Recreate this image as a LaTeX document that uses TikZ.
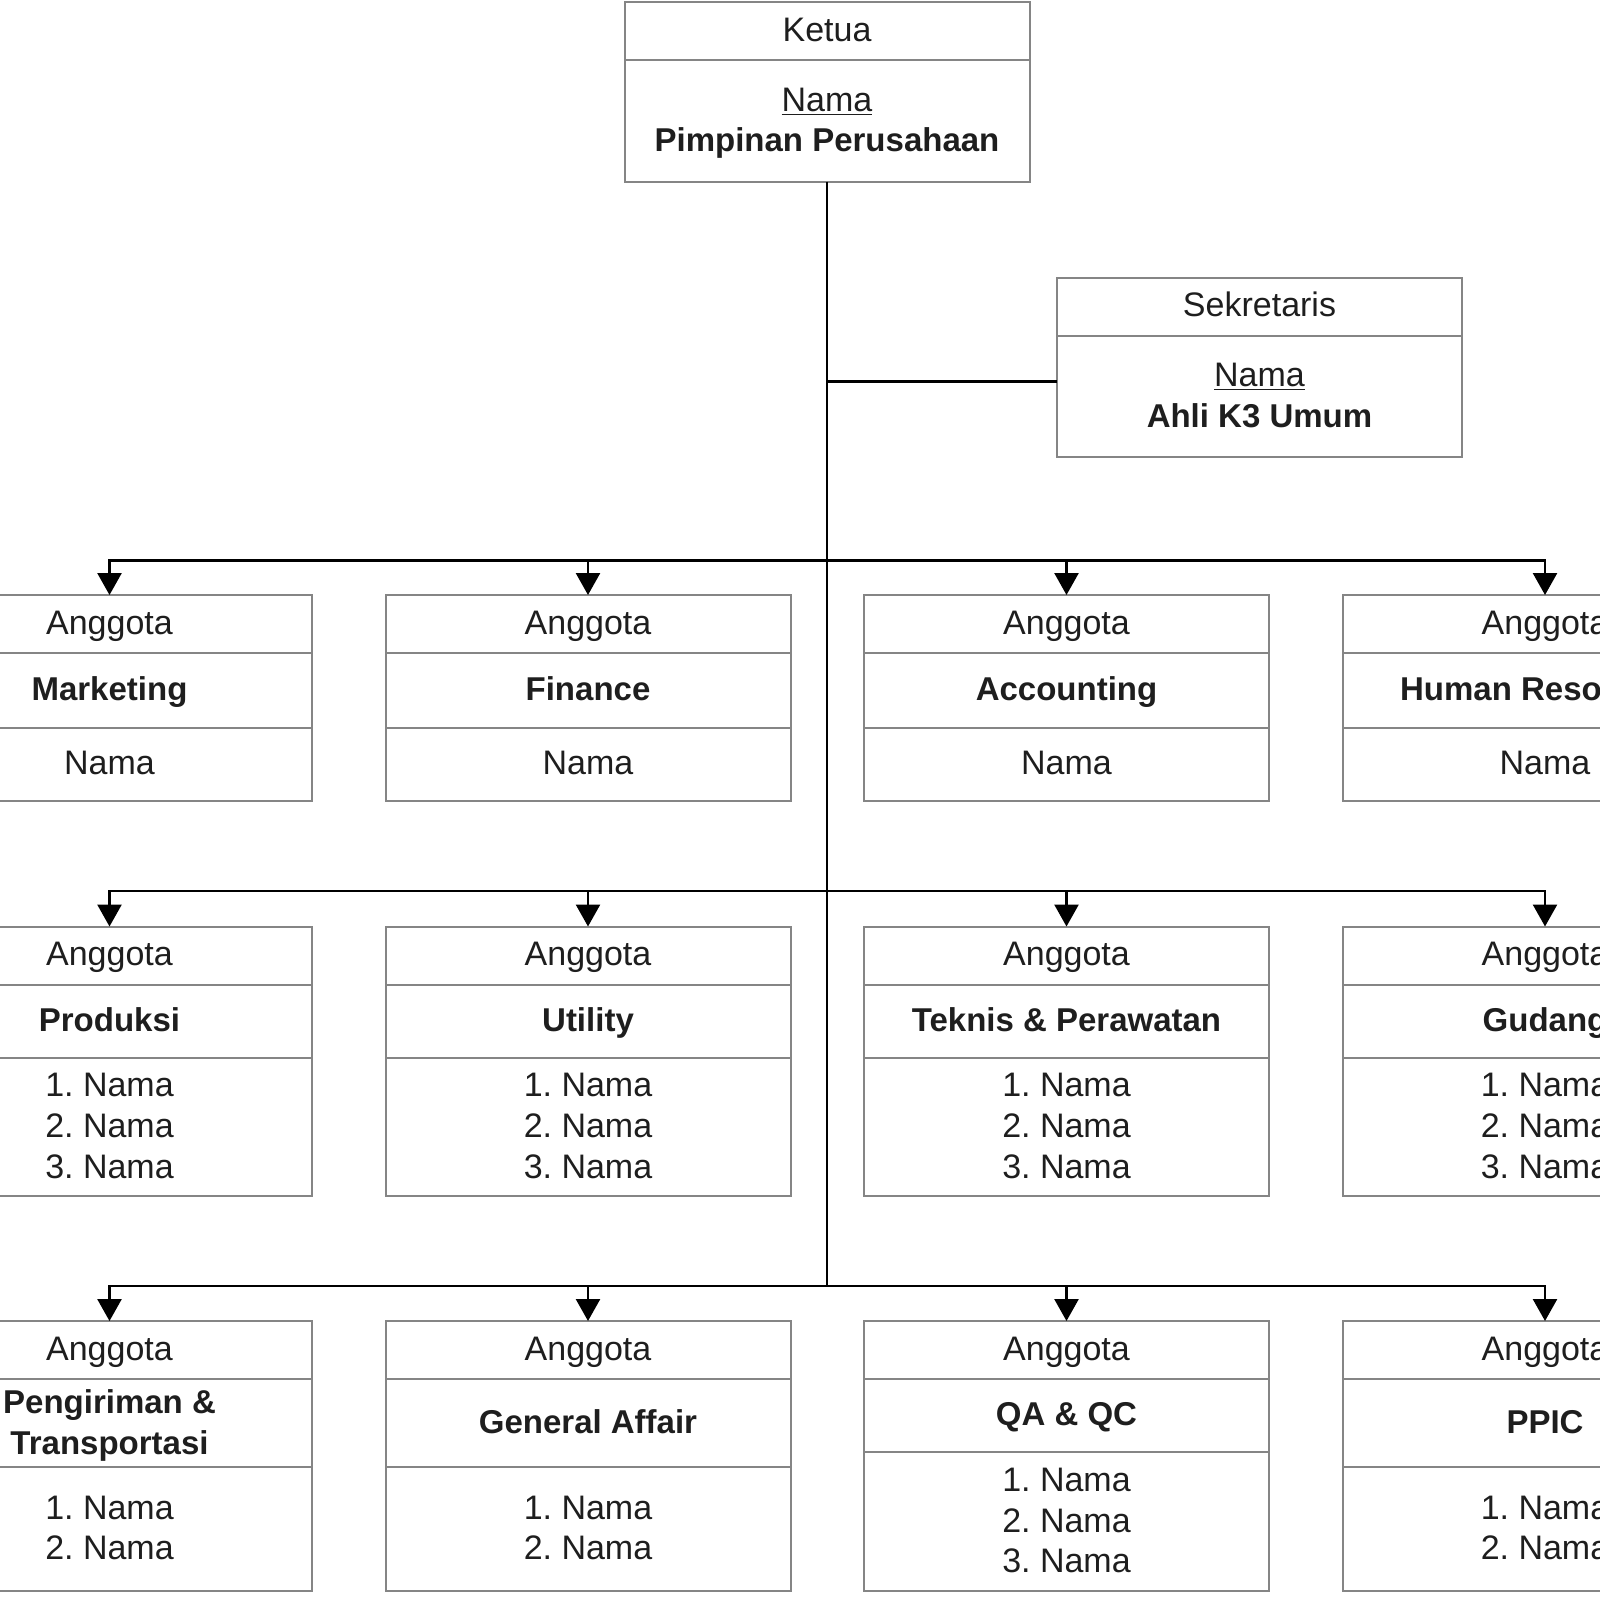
\documentclass[tikz,border=0pt]{standalone}
\usepackage{fontspec}
\setmainfont{Liberation Sans}
\usetikzlibrary{positioning,arrows.meta}
\definecolor{boxline}{HTML}{858585}
\definecolor{txt}{HTML}{1E1E1E}
\tikzset{
  cell/.style={draw=boxline, line width=1pt, minimum width=202.5pt, inner sep=0pt,
    outer sep=0pt, anchor=north, align=center, text=txt,
    font=\fontsize{17}{20.4}\selectfont,
    execute at begin node=\strut, text depth=3.9pt},
  multi/.style={text depth=1pt},
  head/.style={cell, minimum height=29pt},
  dept/.style={cell, font=\fontsize{16.5}{20.4}\selectfont\bfseries},
  link/.style={line width=1.3pt, black},
  arr/.style={link, -{Triangle[length=11pt,width=12pt]}}
}
\begin{document}
\begin{tikzpicture}[x=0.5pt,y=-0.5pt]
\useasboundingbox (0,0) rectangle (1600,1600);
% ketua
\node[head, minimum height=29.1pt] (ketuah) at (827,2) {Ketua};
\node[cell, multi, minimum height=60.7pt, below=0pt of ketuah] (ketuab) {\underline{Nama}\\{\fontsize{16.5}{20.4}\selectfont\bfseries Pimpinan Perusahaan}};
% sekretaris
\node[head, minimum height=29.1pt] (sekh) at (1259.5,277.5) {Sekretaris};
\node[cell, multi, minimum height=60.5pt, below=0pt of sekh] (sekb) {\underline{Nama}\\{\fontsize{16.5}{20.4}\selectfont\bfseries Ahli K3 Umum}};
% baris 1
\node[head] (mkth) at (109.5,595) {Anggota};
\node[dept, minimum height=37.3pt, below=0pt of mkth] (mktm) {Marketing};
\node[cell, minimum height=36.7pt, below=0pt of mktm] (mktb) {Nama};
\node[head] (finh) at (588,595) {Anggota};
\node[dept, minimum height=37.3pt, below=0pt of finh] (finm) {Finance};
\node[cell, minimum height=36.7pt, below=0pt of finm] (finb) {Nama};
\node[head] (acch) at (1066.5,595) {Anggota};
\node[dept, minimum height=37.3pt, below=0pt of acch] (accm) {Accounting};
\node[cell, minimum height=36.7pt, below=0pt of accm] (accb) {Nama};
\node[head] (hrdh) at (1545,595) {Anggota};
\node[dept, minimum height=37.3pt, below=0pt of hrdh] (hrdm) {Human Resources};
\node[cell, minimum height=36.7pt, below=0pt of hrdm] (hrdb) {Nama};
% baris 2
\node[head] (prdh) at (109.5,926.5) {Anggota};
\node[dept, minimum height=36.75pt, below=0pt of prdh] (prdm) {Produksi};
\node[cell, multi, minimum height=68.9pt, below=0pt of prdm] (prdb) {1.\ Nama\\2.\ Nama\\3.\ Nama};
\node[head] (utlh) at (588,926.5) {Anggota};
\node[dept, minimum height=36.75pt, below=0pt of utlh] (utlm) {Utility};
\node[cell, multi, minimum height=68.9pt, below=0pt of utlm] (utlb) {1.\ Nama\\2.\ Nama\\3.\ Nama};
\node[head] (tekh) at (1066.5,926.5) {Anggota};
\node[dept, minimum height=36.75pt, below=0pt of tekh] (tekm) {Teknis \& Perawatan};
\node[cell, multi, minimum height=68.9pt, below=0pt of tekm] (tekb) {1.\ Nama\\2.\ Nama\\3.\ Nama};
\node[head] (gdgh) at (1545,926.5) {Anggota};
\node[dept, minimum height=36.75pt, below=0pt of gdgh] (gdgm) {Gudang};
\node[cell, multi, minimum height=68.9pt, below=0pt of gdgm] (gdgb) {1.\ Nama\\2.\ Nama\\3.\ Nama};
% baris 3
\node[head] (trph) at (109.5,1321) {Anggota};
\node[dept, multi, minimum height=43.85pt, below=0pt of trph] (trpm) {Pengiriman \&\\Transportasi};
\node[cell, multi, minimum height=62pt, below=0pt of trpm] (trpb) {1.\ Nama\\2.\ Nama};
\node[head] (gnah) at (588,1321) {Anggota};
\node[dept, minimum height=43.85pt, below=0pt of gnah] (gnam) {General Affair};
\node[cell, multi, minimum height=62pt, below=0pt of gnam] (gnab) {1.\ Nama\\2.\ Nama};
\node[head] (qach) at (1066.5,1321) {Anggota};
\node[dept, minimum height=36.5pt, below=0pt of qach] (qacm) {QA \& QC};
\node[cell, multi, minimum height=69.35pt, below=0pt of qacm] (qacb) {1.\ Nama\\2.\ Nama\\3.\ Nama};
\node[head] (ppch) at (1545,1321) {Anggota};
\node[dept, minimum height=43.85pt, below=0pt of ppch] (ppcm) {PPIC};
\node[cell, multi, minimum height=62pt, below=0pt of ppcm] (ppcb) {1.\ Nama\\2.\ Nama};
% garis
\coordinate (sekjoin) at (827,381.7);
\coordinate (bus1) at (827,560.7);
\coordinate (bus2) at (827,891);
\coordinate (bus3) at (827,1286);
\draw[link] (ketuab.south) -- (bus3);
\draw[link] (sekjoin) -- (sekjoin -| sekb.west);
\draw[arr] (bus1) -| (mkth.north);
\draw[arr] (bus1) -| (finh.north);
\draw[arr] (bus1) -| (acch.north);
\draw[arr] (bus1) -| (hrdh.north);
\draw[arr] (bus2) -| (prdh.north);
\draw[arr] (bus2) -| (utlh.north);
\draw[arr] (bus2) -| (tekh.north);
\draw[arr] (bus2) -| (gdgh.north);
\draw[arr] (bus3) -| (trph.north);
\draw[arr] (bus3) -| (gnah.north);
\draw[arr] (bus3) -| (qach.north);
\draw[arr] (bus3) -| (ppch.north);
\end{tikzpicture}
\end{document}
